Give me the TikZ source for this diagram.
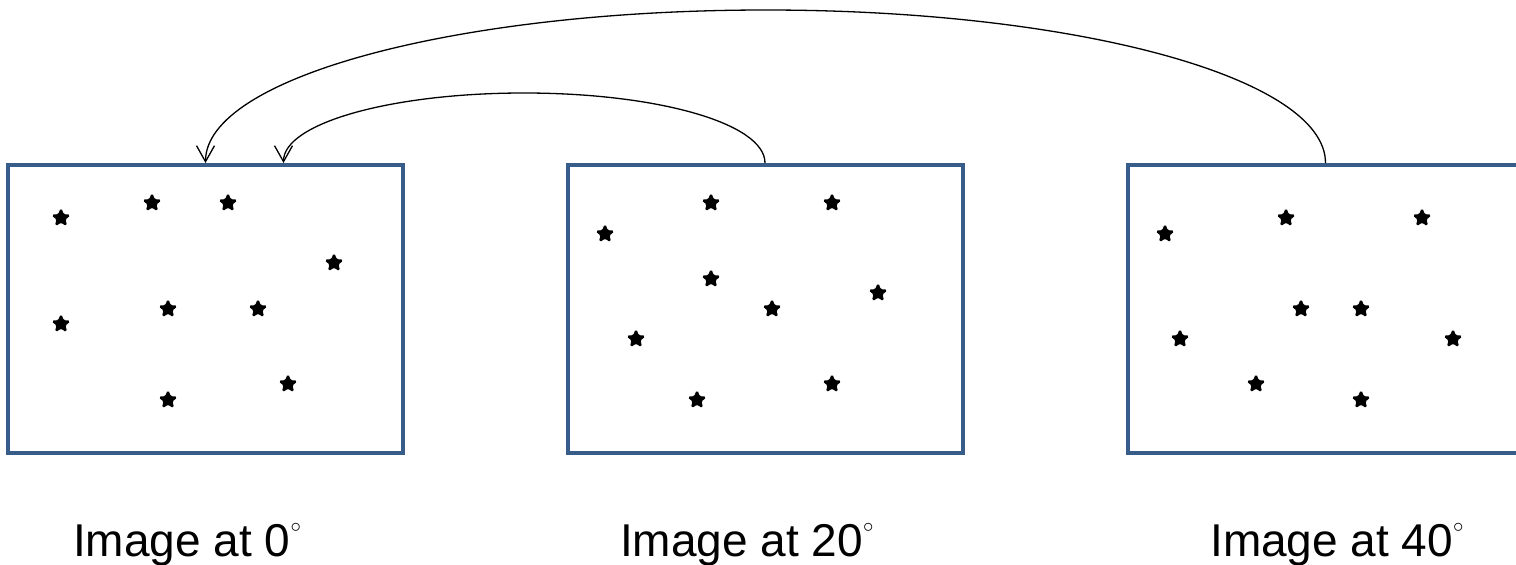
\documentclass[tikz,border=0pt]{standalone}
\usepackage{fontspec}
\setmainfont{Liberation Sans}
\usetikzlibrary{shapes.geometric,arrows.meta,calc}
\definecolor{frameblue}{HTML}{385D8A}
\newcommand{\degmark}{{\fontsize{20pt}{20pt}\selectfont\raisebox{24pt}{$\circ$}}}
\tikzset{
  frame/.style={draw=frameblue, line width=4pt, minimum width=395pt, minimum height=288pt, inner sep=0pt},
  pt/.style={star, star points=5, star point ratio=2.3, minimum size=18pt, inner sep=0pt,
             fill=black, draw=black, line width=1.4pt, rounded corners=1.5pt},
  link/.style={line width=1.3pt, -{Straight Barb[length=16pt,width=18pt,line width=1.3pt]}},
  caption/.style={anchor=base west, font=\fontsize{46pt}{50pt}\selectfont, inner sep=0pt}
}
\begin{document}
\begin{tikzpicture}[x=1pt, y=-1pt]
  \useasboundingbox (0,0) rectangle (1516,565);
  \clip (0,0) rectangle (1516,565);

  % three frames
  \node[frame] (b1) at (205.5,309) {};
  \node[frame] (b2) at (765,309) {};
  \node[frame] (b3) at (1325.5,309) {};

  % stars in the first frame
  \node[pt] (a1) at (61,218) {};
  \node[pt] (a2) at (152,203) {};
  \node[pt] (a3) at (228,203) {};
  \node[pt] (a4) at (334,263) {};
  \node[pt] (a5) at (61,324) {};
  \node[pt] (a6) at (168,309) {};
  \node[pt] (a7) at (258,309) {};
  \node[pt] (a8) at (288,384) {};
  \node[pt] (a9) at (168,400) {};

  % stars in the second frame
  \node[pt] (c1) at (605,234) {};
  \node[pt] (c2) at (711,203) {};
  \node[pt] (c3) at (832,203) {};
  \node[pt] (c4) at (711,279) {};
  \node[pt] (c5) at (772,309) {};
  \node[pt] (c6) at (878,293) {};
  \node[pt] (c7) at (636,339) {};
  \node[pt] (c8) at (697,400) {};
  \node[pt] (c9) at (832,384) {};

  % stars in the third frame
  \node[pt] (d1) at (1165,234) {};
  \node[pt] (d2) at (1286,218) {};
  \node[pt] (d3) at (1422,218) {};
  \node[pt] (d4) at (1301,309) {};
  \node[pt] (d5) at (1361,309) {};
  \node[pt] (d6) at (1180,339) {};
  \node[pt] (d7) at (1453,339) {};
  \node[pt] (d8) at (1256,384) {};
  \node[pt] (d9) at (1361,400) {};

  % arc end points on the first frame
  \coordinate (t1) at ($(b1.north)+(78,0)$);
  \coordinate (p1) at (524,93);
  \coordinate (p2) at (765.75,10);

  % arcs back to the first frame
  \draw[link] (b2.north) .. controls +(0,-39.7) and +(133,0) .. (p1)
                         .. controls +(-133,0) and +(0,-39.7) .. (t1);
  \draw[link] (b3.north) .. controls +(0,-85.6) and +(309,0) .. (p2)
                         .. controls +(-309,0) and +(0,-85.6) .. (b1.north);

  % captions
  \node[caption] (l1) at (73,556) {Image at 0\degmark};
  \node[caption] (l2) at (620,556) {Image at 20\degmark};
  \node[caption] (l3) at (1210,556) {Image at 40\degmark};
\end{tikzpicture}
\end{document}
